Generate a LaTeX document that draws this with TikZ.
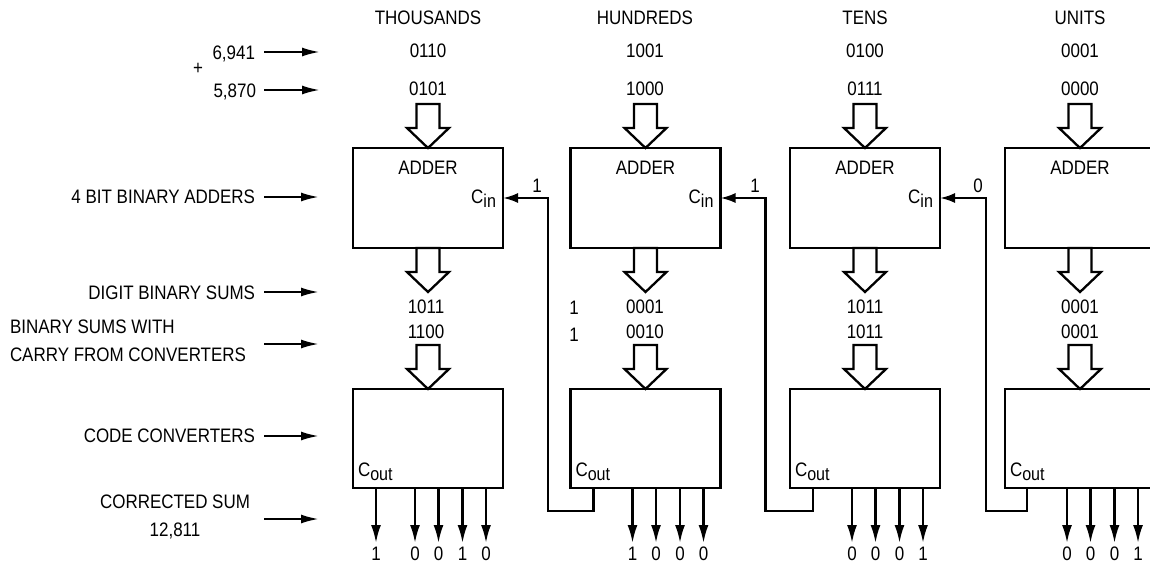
\documentclass[tikz,border=0pt]{standalone}
\usepackage{fontspec}
\setmainfont[FakeStretch=0.87]{Liberation Sans}
\usetikzlibrary{arrows.meta,calc}
\newcommand\lowsub[1]{\raisebox{-4pt}{\fontsize{18.5}{19}\selectfont #1}}
\tikzset{
  blk/.style={draw, line width=2.3pt, minimum width=150pt, inner sep=0pt, outer sep=0pt},
  txt/.style={inner sep=0pt, outer sep=0pt, anchor=base},
  ltxt/.style={inner sep=0pt, outer sep=0pt, anchor=base east},
  arr/.style={line width=2.3pt, -{Latex[length=18pt,width=9pt]}},
  outarr/.style={line width=2.3pt, -{Latex[length=18pt,width=10pt]}},
  cin/.style={line width=2.3pt, -{Latex[length=15pt,width=10pt]}},
  hollow/.style={line width=2.3pt, fill=white, line join=miter}
}
\newcommand\hollowto[1]{\draw[hollow] (#1) -- ++(-21,-20) -- ++(9.5,0) -- ++(0,-24) -- ++(23,0) -- ++(0,24) -- ++(9.5,0) -- cycle;}
\begin{document}
\begin{tikzpicture}[x=1pt,y=-1pt,font=\fontsize{19.5}{22}\selectfont]
\useasboundingbox (0,0) rectangle (1150,565);
\clip (0,0) rectangle (1150,565);
% column headers
\node[txt] (h1) at (428,24.5) {THOUSANDS};
\node[txt] (h2) at (645,24.5) {HUNDREDS};
\node[txt] (h3) at (865,24.5) {TENS};
\node[txt] (h4) at (1080,24.5) {UNITS};
% inputs
\node[txt] (a1) at (428,57) {0110};
\node[txt] (a2) at (645,57) {1001};
\node[txt] (a3) at (865,57) {0100};
\node[txt] (a4) at (1080,57) {0001};
\node[txt] (b1) at (428,95) {0101};
\node[txt] (b2) at (645,95) {1000};
\node[txt] (b3) at (865,95) {0111};
\node[txt] (b4) at (1080,95) {0000};
% adders
\node[blk, minimum height=100pt] (A1) at (428,198) {};
\node[blk, minimum height=100pt] (A2) at (645.5,198) {};
\node[blk, minimum height=100pt] (A3) at (865,198) {};
\node[blk, minimum height=100pt] (A4) at (1080,198) {};
\foreach \i in {1,2,3,4} {
  \node[txt] (ad\i) at ($(A\i.north)+(0,26)$) {ADDER};
  \hollowto{A\i.north}
  \coordinate (s\i) at ($(A\i.south)+(0,44)$);
}
\foreach \i in {1,2,3} {
  \node[inner sep=0pt, outer sep=0pt, anchor=base east] (ci\i) at ($(A\i.east)+(-7,5)$) {C\lowsub{in}};
}
% converters
\node[blk, minimum height=99pt] (C1) at (428,438.5) {};
\node[blk, minimum height=99pt] (C2) at (645.5,438.5) {};
\node[blk, minimum height=99pt] (C3) at (865,438.5) {};
\node[blk, minimum height=99pt] (C4) at (1080,438.5) {};
\foreach \i in {1,2,3,4} {
  \hollowto{s\i}
  \hollowto{C\i.north}
  \node[inner sep=0pt, outer sep=0pt, anchor=base west] (co\i) at ($(C\i.south west)+(5,-12)$) {C\lowsub{out}};
}
% sums
\node[txt] (d1) at (426,313) {1011};
\node[txt] (d2) at (645,313) {0001};
\node[txt] (d3) at (865,313) {1011};
\node[txt] (d4) at (1080,313) {0001};
\node[txt] (e1) at (426,338.5) {1100};
\node[txt] (e2) at (645,338.5) {0010};
\node[txt] (e3) at (865,338.5) {1011};
\node[txt] (e4) at (1080,338.5) {0001};
\node[txt] (k1) at (574,314) {1};
\node[txt] (k2) at (574,341) {1};
% outputs
\draw[outarr] ($(C1.south west)+(23,0)$) -- ++(0,55) node[anchor=north, inner sep=2.5pt] (o10) {1};
\foreach \i/\a/\b/\c/\d in {1/0/0/1/0, 2/1/0/0/0, 3/0/0/0/1, 4/0/0/0/1} {
  \draw[outarr] ($(C\i.south west)+(62,0)$) -- ++(0,55) node[anchor=north, inner sep=2.5pt] (o\i1) {\a};
  \draw[outarr] ($(C\i.south west)+(85.5,0)$) -- ++(0,55) node[anchor=north, inner sep=2.5pt] (o\i2) {\b};
  \draw[outarr] ($(C\i.south west)+(109.5,0)$) -- ++(0,55) node[anchor=north, inner sep=2.5pt] (o\i3) {\c};
  \draw[outarr] ($(C\i.south west)+(133,0)$) -- ++(0,55) node[anchor=north, inner sep=2.5pt] (o\i4) {\d};
}
% carries
\draw[cin] ($(C2.south west)+(23,0)$) -- ++(0,23) -| ($(A1.east)+(45,0)$) -- (A1.east);
\draw[cin] ($(C3.south west)+(23,0)$) -- ++(0,23) -| ($(A2.east)+(45,0)$) -- (A2.east);
\draw[cin] ($(C4.south west)+(22,0)$) -- ++(0,23) -| ($(A3.east)+(46,0)$) -- (A3.east);
\node[txt] (cl1) at (537,192) {1};
\node[txt] (cl2) at (755,192) {1};
\node[txt] (cl3) at (978,192) {0};
% left labels
\node[ltxt] (l1) at (255,59) {6,941};
\node[inner sep=0pt] (plus) at (198,69) {+};
\node[ltxt] (l2) at (256,97) {5,870};
\node[ltxt] (l3) at (255,203) {4 BIT BINARY ADDERS};
\node[ltxt] (l4) at (255,299) {DIGIT BINARY SUMS};
\node[inner sep=0pt, outer sep=0pt, anchor=base west] (l5) at (10,333.5) {BINARY SUMS WITH};
\node[inner sep=0pt, outer sep=0pt, anchor=base west] (l6) at (10,361.5) {CARRY FROM CONVERTERS};
\node[ltxt] (l7) at (255,442) {CODE CONVERTERS};
\node[txt] (l8) at (175,508) {CORRECTED SUM};
\node[txt] (l9) at (175,536) {12,811};
\coordinate (p1) at (264,52); \coordinate (q1) at (320,52);
\coordinate (p2) at (264,90); \coordinate (q2) at (320,90);
\coordinate (p3) at (264,197); \coordinate (q3) at (319,197);
\coordinate (p4) at (264,292); \coordinate (q4) at (319,292);
\coordinate (p5) at (264,344); \coordinate (q5) at (319,344);
\coordinate (p6) at (264,436); \coordinate (q6) at (319,436);
\coordinate (p7) at (264,519); \coordinate (q7) at (319,519);
\foreach \i in {1,...,7} { \draw[arr] (p\i) -- (q\i); }
\end{tikzpicture}
\end{document}
